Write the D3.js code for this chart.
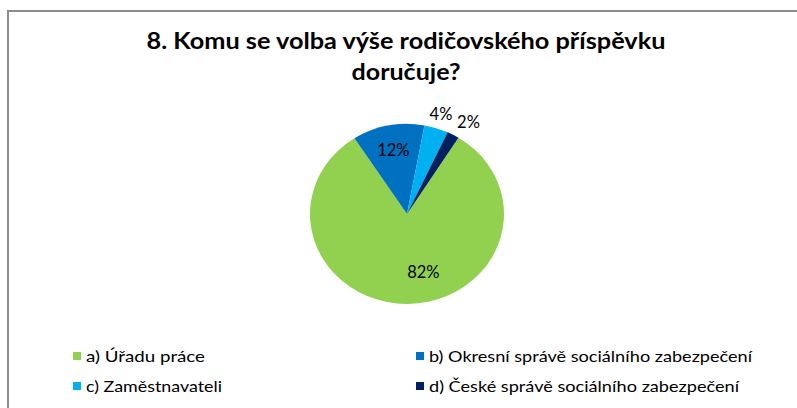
<!DOCTYPE html>
<html><head><meta charset="utf-8">
<script src="https://cdn.jsdelivr.net/npm/d3@7/dist/d3.min.js"></script>
<style>html,body{margin:0;padding:0;background:#fff;}svg{display:block;}</style>
</head><body>
<script>
const titleLines = ["8. Komu se volba výše rodičovského příspěvku", "doručuje?"];
const categories = ["a) Úřadu práce", "b) Okresní správě sociálního zabezpečení", "c) Zaměstnavateli", "d) České správě sociálního zabezpečení"];
const values = [82, 12, 4, 2];
const colors = ["#92D050", "#0070C0", "#00B0F0", "#002060"];

const W = 797, H = 408;
const svg = d3.select("body").append("svg").attr("width", W).attr("height", H);
const font = "Lato, 'Liberation Sans', sans-serif";

// frame
svg.append("rect").attr("x", 8).attr("y", 11).attr("width", 820).attr("height", 420)
  .attr("fill", "#fff").attr("stroke", "#8c8c8c").attr("stroke-width", 2);

// title
const titleBase = [49, 80], titleLen = [519, 109];
titleLines.forEach((t, i) => {
  svg.append("text").attr("x", 406).attr("y", titleBase[i]).attr("text-anchor", "middle")
    .attr("font-family", font).attr("font-weight", "bold").attr("font-size", 23)
    .attr("fill", "#000").attr("textLength", titleLen[i]).attr("lengthAdjust", "spacingAndGlyphs")
    .text(t);
});

// pie
const cx = 407, cy = 214, R = 90, sx = 97 / 90;
const start = 32 * Math.PI / 180;
const pie = d3.pie().sort(null).startAngle(start).endAngle(start + 2 * Math.PI);
const arcs = pie(values);
const arc = d3.arc().innerRadius(0).outerRadius(R);
const g = svg.append("g").attr("transform", `translate(${cx},${cy}) scale(${sx},1)`);
g.selectAll("path").data(arcs).join("path")
  .attr("d", arc).attr("fill", (d, i) => colors[i]);

// labels
const labelNudge = [16, 0, 0, 8];
const fmt = d3.format(".0%");
arcs.forEach((d, i) => {
  const a = (d.startAngle + d.endAngle) / 2;
  const r = d.value >= 10 ? (d.value > 50 ? 0.64 : 0.72) * R : 1.16 * R;
  const x = cx + Math.sin(a) * r * sx + labelNudge[i];
  const y = cy - Math.cos(a) * r;
  svg.append("text").attr("x", x).attr("y", y + 6).attr("text-anchor", "middle")
    .attr("font-family", font).attr("font-size", 16.5).attr("fill", "#000")
    .text(fmt(d.value / 100));
});

// legend
const legX = [86, 429], legY = [362, 392];
const legLen = [119, 323, 136, 310];
categories.forEach((c, i) => {
  const col = i % 2, row = Math.floor(i / 2);
  svg.append("rect").attr("x", legX[col] - 13).attr("y", legY[row] - 10)
    .attr("width", 8).attr("height", 8).attr("fill", colors[i]);
  svg.append("text").attr("x", legX[col]).attr("y", legY[row])
    .attr("font-family", font).attr("font-size", 15).attr("fill", "#000")
    .attr("textLength", legLen[i]).attr("lengthAdjust", "spacingAndGlyphs")
    .text(c);
});
</script>
</body></html>
